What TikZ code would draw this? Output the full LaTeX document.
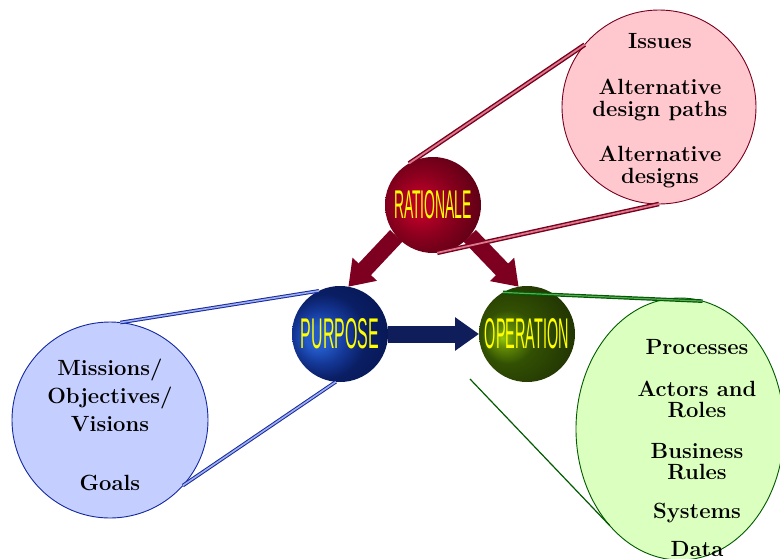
\documentclass[tikz,border=0pt]{standalone}
\usepackage{fontspec}
\setsansfont{Liberation Sans}
\usepackage{graphicx}
\usetikzlibrary{arrows.meta,shapes.geometric}

\definecolor{ratline}{RGB}{120,0,30}
\definecolor{ratstripe}{RGB}{220,120,140}
\definecolor{ratarrow}{RGB}{125,0,32}
\definecolor{pinkfill}{RGB}{255,199,206}
\definecolor{purline}{RGB}{20,40,160}
\definecolor{purstripe}{RGB}{160,175,235}
\definecolor{purarrow}{RGB}{15,30,90}
\definecolor{bluefill}{RGB}{197,207,255}
\definecolor{opline}{RGB}{0,90,0}
\definecolor{opstripe}{RGB}{90,170,90}
\definecolor{greenfill}{RGB}{218,255,190}
\definecolor{balltext}{RGB}{255,255,0}
% ball tones
\definecolor{ratA}{RGB}{185,0,40}\definecolor{ratB}{RGB}{140,0,30}
\definecolor{ratC}{RGB}{100,0,22}\definecolor{ratD}{RGB}{68,0,13}
\definecolor{ratE}{RGB}{40,0,6}\definecolor{ratF}{RGB}{25,0,3}
\definecolor{purA}{RGB}{35,90,200}\definecolor{purB}{RGB}{20,55,150}
\definecolor{purC}{RGB}{10,30,100}\definecolor{purD}{RGB}{5,20,75}
\definecolor{purE}{RGB}{2,12,50}\definecolor{purF}{RGB}{0,5,25}
\definecolor{opA}{RGB}{150,200,10}\definecolor{opB}{RGB}{100,140,5}
\definecolor{opC}{RGB}{50,80,3}\definecolor{opD}{RGB}{35,55,3}
\definecolor{opE}{RGB}{22,40,0}\definecolor{opF}{RGB}{10,22,0}

\pgfdeclareradialshading{ratball}{\pgfpoint{-8bp}{0bp}}{%
  color(0bp)=(ratA); color(6bp)=(ratA); color(16bp)=(ratB);
  color(28bp)=(ratC); color(42bp)=(ratD); color(52bp)=(ratE); color(62bp)=(ratF)}
\pgfdeclareradialshading{purball}{\pgfpoint{-13bp}{-2bp}}{%
  color(0bp)=(purA); color(6bp)=(purA); color(14bp)=(purB);
  color(22bp)=(purC); color(40bp)=(purD); color(50bp)=(purE); color(62bp)=(purF)}
\pgfdeclareradialshading{opball}{\pgfpoint{-13bp}{-2bp}}{%
  color(0bp)=(opA); color(5bp)=(opB); color(14bp)=(opC);
  color(30bp)=(opD); color(45bp)=(opE); color(58bp)=(opF)}

\newcommand{\balltext}[3]{\resizebox{#1}{#2}{\sffamily #3}}

\begin{document}
\begin{tikzpicture}[x=1pt,y=-1pt,
  ball/.style={circle, shade, minimum size=96pt, inner sep=0pt, outer sep=0pt, text=balltext},
  bubble/.style={circle, inner sep=0pt, outer sep=0pt, line width=0.9pt},
  bubbletext/.style={align=center, font=\fontsize{22}{22.5}\selectfont\bfseries},
  bigarrow/.style={line width=17pt, -{Triangle[width=32pt,length=24pt]}},
  ratcallout/.style={draw=ratline, double=ratstripe, line width=1.4pt, double distance=1.8pt},
  purcallout/.style={draw=purline, double=purstripe, line width=1pt, double distance=1.6pt},
  opcallout/.style={draw=opline, double=opstripe, line width=1.2pt, double distance=1.2pt}]
  \useasboundingbox (0,0) rectangle (780,558);
  %
  \node[bubble, draw=ratline, fill=pinkfill, minimum size=194pt] (issues) at (659,107) {};
  \node[bubble, draw=purline, fill=bluefill, minimum size=196pt] (missions) at (110,420) {};
  \node[bubble, ellipse, draw=opline, fill=greenfill, minimum width=208pt, minimum height=262pt] (processes) at (680,429) {};
  %
  \node[bubbletext] (issuestext) at (660,111)
    {Issues\\[23pt]Alternative\\design paths\\[22pt]Alternative\\designs};
  \node[bubbletext, font=\fontsize{22}{28}\selectfont\bfseries] (missionstext) at (110,425)
    {Missions/\\Objectives/\\Visions\\[31pt]Goals};
  \node[bubbletext, font=\fontsize{22}{20.5}\selectfont\bfseries] (processestext) at (697,448)
    {Processes\\[22pt]Actors and\\Roles\\[21pt]Business\\Rules\\[19pt]Systems\\[17pt]Data};
  %
  \node[ball, shading=ratball] (rationale) at (433,205) {\balltext{78pt}{28pt}{RATIONALE}};
  \node[ball, shading=purball] (purpose) at (340,334) {\balltext{78pt}{30pt}{PURPOSE}};
  \node[ball, shading=opball] (operation) at (527,334) {\balltext{84pt}{30pt}{OPERATION}};
  %
  \draw[bigarrow, draw=ratarrow] (rationale.220) -- (purpose.80);
  \draw[bigarrow, draw=ratarrow] (rationale.-40) -- (operation.100);
  \draw[bigarrow, draw=purarrow] (purpose.east) -- (operation.west);
  %
  \draw[ratcallout] (issues.140) -- (rationale.120);
  \draw[ratcallout] (issues.south) -- (rationale.-85);
  \draw[purcallout] (missions.84) -- (purpose.116);
  \draw[purcallout] (missions.-42) -- (purpose.-95);
  \draw[opcallout] (operation.120) -- (processes.80);
  \coordinate (opfoot) at (470,379);
  \draw[draw=opline, line width=1.2pt] (opfoot) -- (processes.-126);
\end{tikzpicture}
\end{document}
